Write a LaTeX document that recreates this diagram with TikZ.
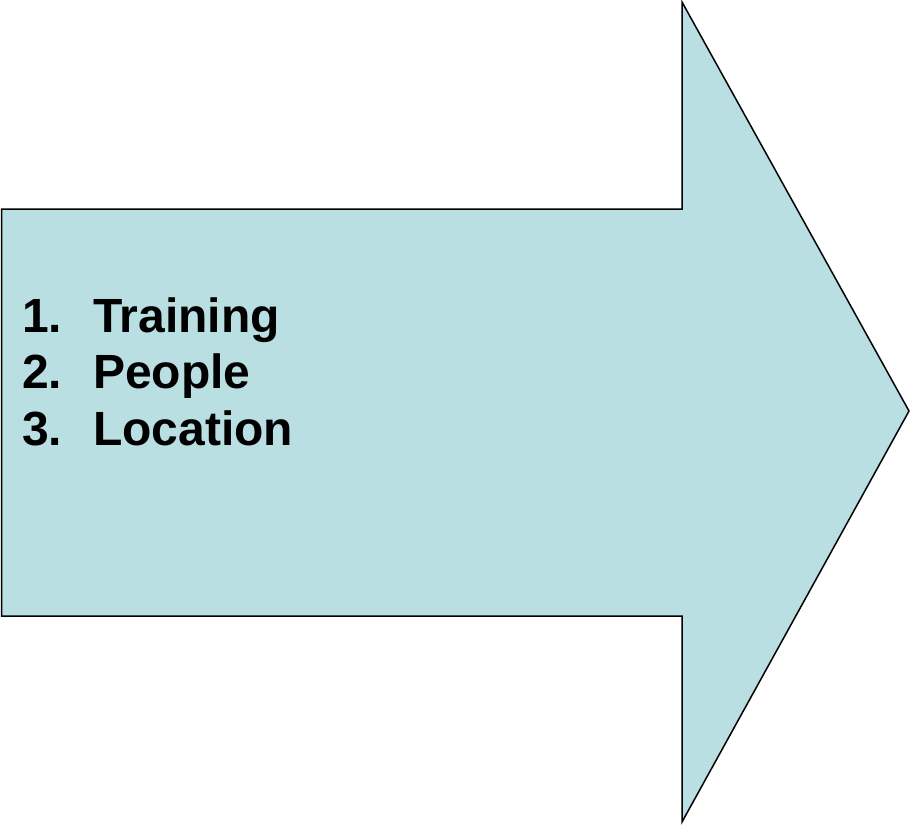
\documentclass[tikz,border=0pt]{standalone}
\usepackage{fontspec}
\setmainfont{Liberation Sans}
\definecolor{arrowfill}{HTML}{B9DFE3}
\begin{document}
\begin{tikzpicture}[x=1pt,y=-1pt,
  arrowshape/.style={draw=black,line width=1.5pt,fill=arrowfill,line join=miter},
  itemtext/.style={anchor=base west,inner sep=0pt,font=\fontsize{48}{56}\selectfont\bfseries}]
\useasboundingbox (0,0) rectangle (910,825);
\draw[arrowshape] (1.5,209) -- (682,209) -- (682,2) -- (909,411) -- (682,822) -- (682,616) -- (1.5,616) -- cycle;
\node[itemtext] (n1) at (22,332) {1.};
\node[itemtext] (t1) at (93,332) {Training};
\node[itemtext] (n2) at (22,388.5) {2.};
\node[itemtext] (t2) at (93,388.5) {People};
\node[itemtext] (n3) at (22,445) {3.};
\node[itemtext] (t3) at (93,445) {Location};
\end{tikzpicture}
\end{document}
